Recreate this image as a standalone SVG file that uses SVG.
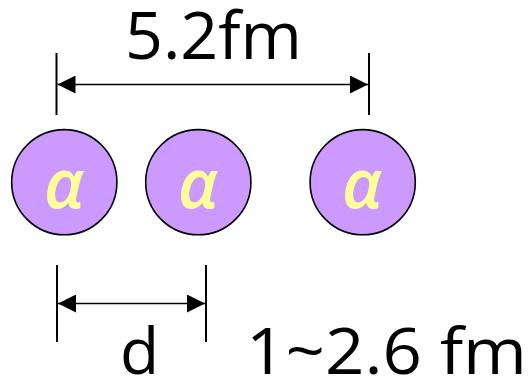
<svg xmlns="http://www.w3.org/2000/svg" width="530" height="381" viewBox="0 0 530 381">
<style>
.node circle{fill:#CC99FF;stroke:#000;stroke-width:1.6}
.alpha{font-family:"Open Sans","DejaVu Sans",sans-serif;font-style:italic;font-weight:600;font-size:68px;fill:#FFFF99;text-anchor:middle}
.lbl{font-family:"Open Sans","Noto Sans",sans-serif;fill:#000}
.ext{stroke:#000;stroke-width:2}
.dim{stroke:#000;stroke-width:1.6;marker-start:url(#ah);marker-end:url(#ah)}
</style>
<defs>
<marker id="ah" markerUnits="userSpaceOnUse" markerWidth="18" markerHeight="18" viewBox="0 -8 16 16" refX="16" refY="0" orient="auto-start-reverse">
<path d="M0,-8 L16,0 L0,8 Z" fill="#000"/>
</marker>
</defs>
<g id="connectors">
<line class="ext" x1="56.5" y1="53" x2="56.5" y2="115"/>
<line class="ext" x1="369" y1="53" x2="369" y2="115"/>
<line class="dim" x1="57.5" y1="84.5" x2="368" y2="84.5"/>
<line class="ext" x1="57" y1="265" x2="57" y2="342"/>
<line class="ext" x1="206" y1="265" x2="206" y2="342"/>
<line class="dim" x1="58" y1="303.5" x2="205" y2="303.5"/>
</g>
<g id="alpha1" class="node"><circle cx="64.3" cy="182.2" r="52.6"/><text class="alpha" x="64" y="208">α</text></g>
<g id="alpha2" class="node"><circle cx="198.3" cy="182.2" r="52.6"/><text class="alpha" x="198" y="208">α</text></g>
<g id="alpha3" class="node"><circle cx="362.7" cy="182.2" r="52.6"/><text class="alpha" x="362" y="208">α</text></g>
<text id="label-total" class="lbl" x="125" y="58.5" font-size="65" textLength="177" lengthAdjust="spacingAndGlyphs">5.2fm</text>
<text id="label-d" class="lbl" x="120" y="374" font-size="64">d</text>
<text id="label-range" class="lbl" x="246" y="374" font-size="64" textLength="281" lengthAdjust="spacingAndGlyphs">1~2.6 fm</text>
</svg>
